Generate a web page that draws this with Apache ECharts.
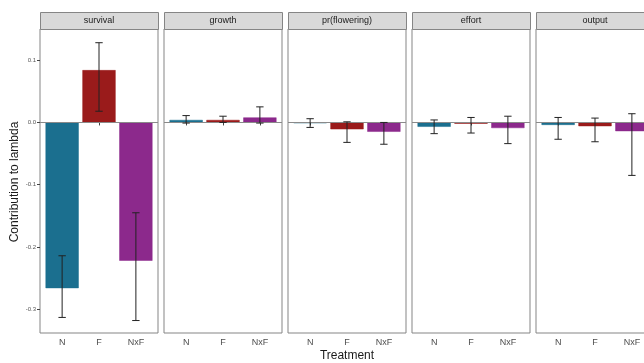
<!DOCTYPE html>
<html>
<head>
<meta charset="utf-8">
<script src="https://cdn.jsdelivr.net/npm/echarts@6/dist/echarts.min.js"></script>
<style>
html,body{margin:0;padding:0;background:#fff;overflow:hidden;}
#chart{width:700px;height:363px;}
</style>
</head>
<body>
<div id="chart"></div>
<script>
// ---- data ----
const categories = ['N', 'F', 'NxF'];
const panelNames = ['survival', 'growth', 'pr(flowering)', 'effort', 'output'];
const barColors = ['#1b6f8f', '#9a1b1b', '#8c298c'];

const survivalValues = [-0.266, 0.084, -0.222];
const survivalLower  = [-0.313, 0.018, -0.318];
const survivalUpper  = [-0.214, 0.128, -0.145];

const growthValues = [0.004, 0.004, 0.008];
const growthLower  = [-0.001, 0.000, -0.001];
const growthUpper  = [0.011, 0.010, 0.025];

const flowerValues = [-0.001, -0.011, -0.015];
const flowerLower  = [-0.008, -0.032, -0.035];
const flowerUpper  = [0.006, 0.001, 0.000];

const effortValues = [-0.007, -0.002, -0.009];
const effortLower  = [-0.018, -0.017, -0.034];
const effortUpper  = [0.004, 0.008, 0.010];

const outputValues = [-0.004, -0.006, -0.014];
const outputLower  = [-0.027, -0.031, -0.085];
const outputUpper  = [0.008, 0.007, 0.014];

const yTicks = [-0.3, -0.2, -0.1, 0.0, 0.1];
const yMin = -0.338, yMax = 0.150;

// ---- layout ----
const panelData = [
  [survivalValues, survivalLower, survivalUpper],
  [growthValues, growthLower, growthUpper],
  [flowerValues, flowerLower, flowerUpper],
  [effortValues, effortLower, effortUpper],
  [outputValues, outputLower, outputUpper]
];
const panelLefts = [40, 164, 288, 412, 536];
const panelW = 118, panelTop = 29, panelH = 304, stripTop = 12, stripH = 17;
const xMin = 0.4, xMax = 3.6;
const barW = 0.9 * panelW / (xMax - xMin);

const grid = [], xAxis = [], yAxis = [], series = [], graphic = [];
panelData.forEach((pd, i) => {
  grid.push({left: panelLefts[i], top: panelTop, width: panelW, height: panelH,
    show: true, borderColor: '#858585', borderWidth: 1, backgroundColor: '#fff'});
  xAxis.push({type: 'value', gridIndex: i, min: xMin, max: xMax,
    axisLine: {show: false}, splitLine: {show: false},
    axisTick: {show: true, customValues: [1, 2, 3], length: 3, lineStyle: {color: '#444'}},
    axisLabel: {show: true, customValues: [1, 2, 3], margin: 5,
      formatter: v => categories[Math.round(v) - 1] || '',
      fontFamily: 'Liberation Sans', fontSize: 9, color: '#4d4d4d'}});
  yAxis.push({type: 'value', gridIndex: i, min: yMin, max: yMax,
    axisLine: {show: false}, splitLine: {show: false},
    axisTick: {show: i === 0, customValues: yTicks, length: 3, lineStyle: {color: '#444'}},
    axisLabel: {show: i === 0, customValues: yTicks, margin: 4,
      formatter: v => v.toFixed(1),
      fontFamily: 'Liberation Sans', fontSize: 6, color: '#555'}});
  series.push({type: 'bar', xAxisIndex: i, yAxisIndex: i, barWidth: barW,
    data: pd[0].map((v, k) => ({value: [k + 1, v],
      itemStyle: {color: barColors[k], borderColor: barColors[k], borderWidth: 0.5}})),
    markLine: {silent: true, symbol: ['none', 'none'], label: {show: false},
      lineStyle: {color: '#8a8a8a', type: 'solid', width: 1}, data: [{yAxis: 0}]},
    z: 2});
  series.push({type: 'custom', xAxisIndex: i, yAxisIndex: i, z: 5,
    data: pd[0].map((v, k) => [k + 1, pd[1][k], pd[2][k]]),
    encode: {x: 0, y: [1, 2]},
    renderItem: (params, api) => {
      const x = api.value(0);
      const lo = api.coord([x, api.value(1)]);
      const hi = api.coord([x, api.value(2)]);
      const half = api.size([0.1, 0])[0];
      const st = {stroke: '#222', lineWidth: 1};
      return {type: 'group', children: [
        {type: 'line', shape: {x1: lo[0], y1: lo[1], x2: hi[0], y2: hi[1]}, style: st},
        {type: 'line', shape: {x1: lo[0] - half, y1: lo[1], x2: lo[0] + half, y2: lo[1]}, style: st},
        {type: 'line', shape: {x1: hi[0] - half, y1: hi[1], x2: hi[0] + half, y2: hi[1]}, style: st}
      ]};
    }});
  graphic.push({type: 'rect', left: panelLefts[i], top: stripTop,
    shape: {width: panelW, height: stripH},
    style: {fill: '#d9d9d9', stroke: '#858585', lineWidth: 1}});
  graphic.push({type: 'text', x: panelLefts[i] + panelW / 2, y: stripTop + stripH / 2 + 0.5,
    style: {text: panelNames[i], fill: '#1a1a1a', fontFamily: 'Liberation Sans', fontSize: 9,
      align: 'center', verticalAlign: 'middle'}});
});
graphic.push({type: 'text', x: 347, y: 356,
  style: {text: 'Treatment', fill: '#1a1a1a', fontFamily: 'Liberation Sans', fontSize: 12,
    align: 'center', verticalAlign: 'middle'}});
graphic.push({type: 'text', x: 15, y: 182, rotation: Math.PI / 2,
  style: {text: 'Contribution to lambda', fill: '#1a1a1a', fontFamily: 'Liberation Sans', fontSize: 12,
    align: 'center', verticalAlign: 'middle'}});

const chart = echarts.init(document.getElementById('chart'), null, {renderer: 'canvas', width: 700, height: 363});
chart.setOption({
  animation: false,
  backgroundColor: '#fff',
  grid, xAxis, yAxis, series, graphic
});
</script>
</body>
</html>
